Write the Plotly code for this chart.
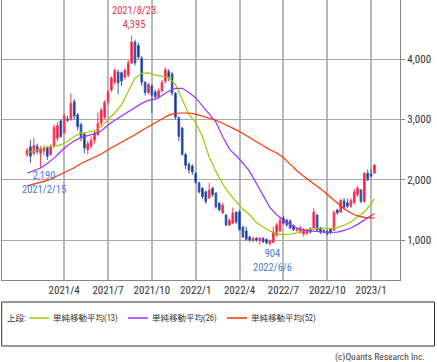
import plotly.graph_objects as go
import pandas as pd

# weekly candles (Monday of each week)
start = "2021-01-18"
n_weeks = 104
opens = [2420,2550,2440,2560,2440,2480,2530,2420,2560,2690,2980,2780,3010,3000,3300,3080,2920,2760,2500,2560,
         2660,2750,2940,3040,3290,3490,3620,3790,3780,3700,3740,3940,4290,4230,4020,3620,3450,3560,3460,3380,
         3480,3640,3800,3760,3440,3030,2860,2420,2260,2230,2110,1950,1860,1800,1700,1860,1780,1610,1450,1415,
         1250,1280,1460,1470,1215,1150,1050,990,1030,990,1030,1010,940,960,1080,1150,1365,1330,1320,1240,
         1160,1130,1100,1110,1190,1200,1415,1200,1160,1150,1190,1165,1500,1465,1650,1620,1560,1620,1750,1830,
         1640,2110,2100,2110]
highs = [2530,2660,2700,2600,2560,2570,2560,2590,2920,2960,3000,3100,3060,3440,3340,3110,2950,2790,2650,2720,
         2820,3120,3200,3320,3500,3720,3850,3830,3800,3850,3990,4395,4330,4280,4060,3640,3610,3590,3500,3520,
         3660,3870,3840,3790,3460,3060,2880,2450,2290,2260,2130,1970,1880,1820,1950,1880,1800,1630,1620,1430,
         1360,1540,1480,1500,1230,1220,1070,1060,1050,1050,1050,1030,1010,1220,1280,1370,1400,1350,1340,1260,
         1210,1230,1200,1190,1210,1530,1430,1220,1180,1170,1200,1490,1520,1680,1700,1690,1700,1850,1900,1850,
         2130,2170,2180,2260]
lows = [2380,2280,2400,2420,2190,2400,2330,2400,2530,2640,2700,2750,2960,2980,3000,2820,2640,2440,2420,2520,
        2600,2720,2900,3000,3250,3460,3580,3420,3560,3660,3700,3920,3900,4000,3560,3400,3420,3110,3330,3340,
        3450,3600,3640,3400,3000,2640,2400,2180,2100,2080,1930,1770,1680,1600,1680,1720,1520,1470,1430,1230,
        1230,1280,1270,1150,1030,990,970,960,970,920,950,930,904,950,1060,1130,1260,1220,1180,1150,
        1140,1110,1060,1080,1110,1180,1150,1100,1110,1080,1090,1150,1420,1450,1500,1530,1530,1600,1720,1610,
        1620,1980,2040,2100]
closes = [2490,2390,2570,2470,2520,2530,2390,2550,2870,2900,2720,3060,2990,3270,3060,2880,2700,2530,2600,2660,
          2780,2940,3160,3290,3460,3690,3820,3610,3640,3820,3940,4290,3940,4040,3620,3450,3580,3400,3380,3480,
          3620,3830,3700,3440,3040,2720,2420,2240,2160,2130,1960,1800,1720,1640,1830,1750,1550,1500,1580,1250,
          1330,1450,1300,1170,1050,1010,1000,1030,1000,1030,970,950,990,1130,1250,1330,1280,1250,1200,1170,
          1190,1200,1180,1170,1130,1465,1165,1130,1140,1100,1120,1465,1450,1660,1540,1560,1660,1800,1860,1640,
          2110,2000,2060,2245]

# moving averages read every two weeks (plus last week)
ma_idx = list(range(0, 104, 2)) + [103]
ma13 = [2445,2480,2520,2545,2560,2580,2640,2720,2780,2790,2820,2880,3000,3110,3250,3480,3690,3770,3775,3740,
        3720,3700,3580,3330,3090,2950,2720,2380,2140,1930,1770,1640,1510,1420,1290,1215,1150,1110,1085,1100,
        1120,1160,1180,1195,1200,1190,1205,1245,1300,1380,1470,1600,1690]
ma26 = [2110,2150,2195,2270,2360,2470,2570,2650,2700,2735,2765,2810,2910,2990,3060,3140,3210,3270,3320,3340,
        3400,3470,3520,3520,3450,3360,3230,3100,2960,2720,2510,2400,2280,2140,1940,1720,1540,1420,1330,1260,
        1200,1165,1150,1140,1130,1125,1130,1160,1200,1260,1330,1400,1440]
ma52 = [1900,1930,1960,1990,2040,2090,2150,2200,2270,2320,2370,2430,2500,2560,2620,2690,2750,2820,2880,2945,
        3010,3075,3105,3110,3110,3090,3060,3030,2990,2940,2890,2830,2770,2700,2630,2560,2500,2445,2370,2260,
        2150,2060,1980,1900,1810,1710,1610,1520,1450,1400,1375,1365,1365]

tick_dates = ["2021-04-05","2021-07-05","2021-10-04","2022-01-03","2022-04-04","2022-07-04","2022-10-03","2023-01-02"]
tick_text = ["2021/4","2021/7","2021/10","2022/1","2022/4","2022/7","2022/10","2023/1"]
y_ticks = [1000, 2000, 3000, 4000]
y_text = ["1,000", "2,000", "3,000", "4,000"]
legend_labels = ["単純移動平均(13)", "単純移動平均(26)", "単純移動平均(52)"]
ma_colors = ["#99cc00", "#a033ff", "#ff3300"]

dates = pd.date_range(start, periods=n_weeks, freq="7D")
ma_dates = [dates[i] for i in ma_idx]

FONT = "Liberation Sans Narrow, Arial Narrow, Roboto Condensed, Noto Sans CJK JP, sans-serif"
UP = "#f5143c"
DOWN = "#0d2a8c"

fig = go.Figure()
fig.add_trace(go.Candlestick(
    x=dates, open=opens, high=highs, low=lows, close=closes,
    increasing=dict(line=dict(color="#ff3a5c", width=1), fillcolor=UP),
    decreasing=dict(line=dict(color="#3a5cb0", width=1), fillcolor=DOWN),
    whiskerwidth=0, showlegend=False, hoverinfo="skip"))
for vals, col, name in zip([ma13, ma26, ma52], ma_colors, legend_labels):
    fig.add_trace(go.Scatter(x=ma_dates, y=vals, mode="lines", name=name,
                             line=dict(color=col, width=1.2), showlegend=False, hoverinfo="skip"))

W, H = 437, 362
L, R, T, B = 2, 37, 0, 82
pw, ph = W - L - R, H - T - B

def px(xp):
    return (xp - L) / pw

def py(yp):
    return (ph - (yp - T)) / ph

ann = []
def txt(x, y, s, color, size, xref="paper", xanchor="center", xshift=0):
    ann.append(dict(x=x, y=py(y), xref=xref, yref="paper", text=s, showarrow=False,
                    font=dict(family=FONT, size=size, color=color), borderpad=0,
                    xanchor=xanchor, yanchor="middle", xshift=xshift))

RED_T = "#e0384c"
BLUE_T = "#4a7ae0"
txt(dates[31], 17.5, "2021/8/23<br>4,395", RED_T, 10.5, xref="x", xshift=2)
txt(dates[4], 182.5, "2,190<br>2021/2/15", BLUE_T, 10.5, xref="x", xshift=3)
txt(dates[72], 260, "904<br>2022/6/6", BLUE_T, 10.5, xref="x", xshift=3)

# legend (drawn manually)
shapes = [dict(type="rect", xref="paper", yref="paper", x0=px(1.7), x1=px(434.5), y0=py(302), y1=py(346),
               line=dict(color="#333333", width=1))]
leg_y = 318
txt(px(6), leg_y, "上段:", "#333333", 8.5, xanchor="left")
for (lx0, lx1, tx), col, lab in zip([(29, 49, 52), (128, 148, 151), (227, 247, 250)], ma_colors, legend_labels):
    shapes.append(dict(type="line", xref="paper", yref="paper", x0=px(lx0), x1=px(lx1), y0=py(leg_y), y1=py(leg_y),
                       line=dict(color=col, width=1.5)))
    txt(px(tx), leg_y, lab, "#333333", 8.5, xanchor="left")
txt(px(426), 357, "(c)Quants Research Inc.", "#444444", 9.5, xanchor="right")

fig.update_layout(
    width=W, height=H, autosize=False,
    margin=dict(l=L, r=R, t=T, b=B, pad=0),
    paper_bgcolor="white", plot_bgcolor="white",
    font=dict(family=FONT, size=11, color="#333333"),
    annotations=ann, shapes=shapes,
    xaxis=dict(type="date", range=["2020-11-27", "2023-03-03"], tickvals=tick_dates, ticktext=tick_text,
               showgrid=True, gridcolor="#b8b8b8", gridwidth=1.5, ticks="", rangeslider=dict(visible=False),
               showline=True, linecolor="#888888", linewidth=1, mirror=True, zeroline=False,
               tickfont=dict(size=11, color="#333333")),
    yaxis=dict(range=[336, 4987], side="right", tickvals=y_ticks, ticktext=y_text,
               showgrid=True, gridcolor="#a8a8a8", gridwidth=1, ticks="outside", ticklen=4, tickcolor="#888888",
               showline=True, linecolor="#888888", linewidth=1, mirror=True, zeroline=False,
               tickfont=dict(size=11, color="#333333")),
)

fig.write_html("out.html", config={"displayModeBar": False},
               post_script="document.body.style.margin='0';")
